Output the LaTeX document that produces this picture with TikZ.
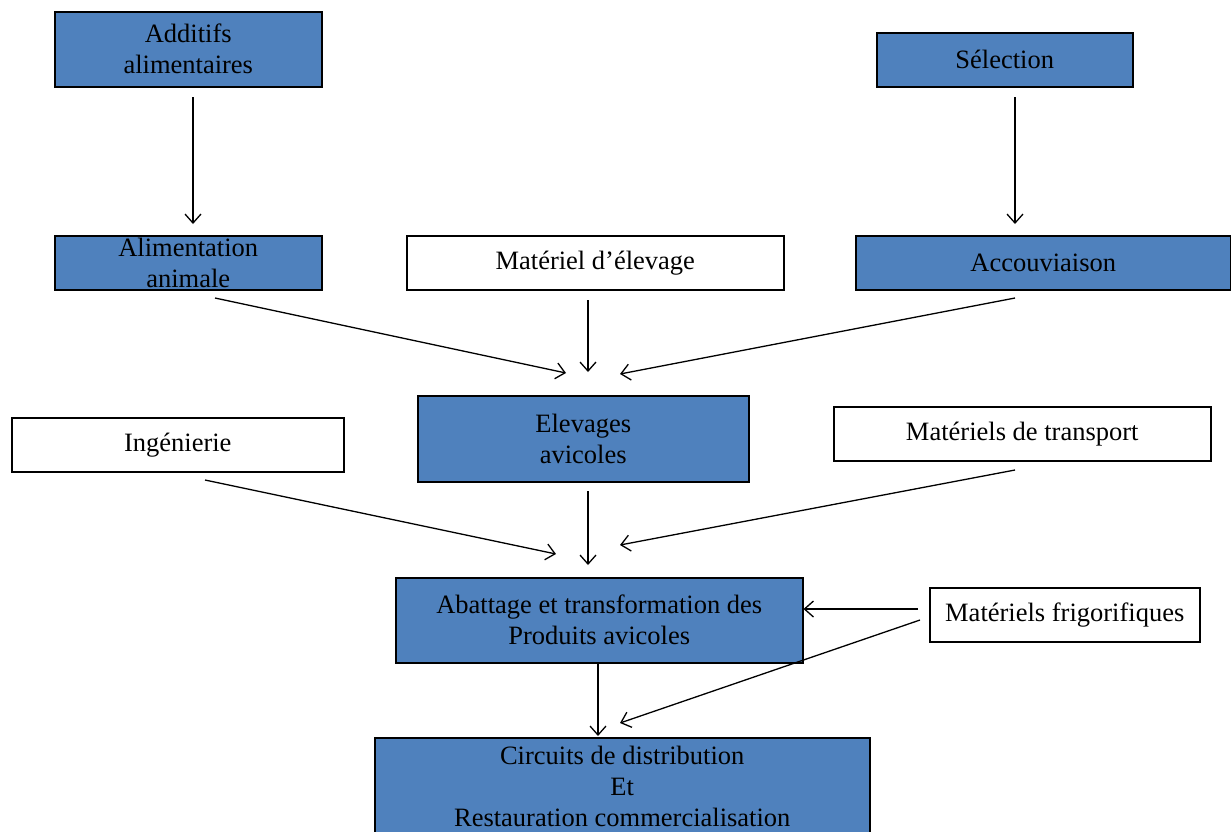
\documentclass[tikz,border=0pt]{standalone}
\usepackage{fontspec}
\setmainfont{Liberation Serif}
\usetikzlibrary{arrows.meta}
\definecolor{boxblue}{HTML}{4F81BD}
\begin{document}
\begin{tikzpicture}[x=1pt,y=-1pt,
  base/.style={draw=black,line width=1.5pt,inner sep=0pt,align=center,
    font=\fontsize{26.5}{31}\selectfont,anchor=north west},
  bluebox/.style={base,fill=boxblue},
  whitebox/.style={base,fill=white},
  arr/.style={line width=1.3pt,-{Straight Barb[length=9pt,width=16pt,line width=1.3pt]}}]
\useasboundingbox (0,0) rectangle (1231,831);
\fill[white] (0,0) rectangle (1231,831);
\begin{scope}
\clip (0,0) rectangle (1231,831);
\node[bluebox,minimum width=267pt,minimum height=75pt] (add) at (54,11) {Additifs\\alimentaires};
\node[bluebox,minimum width=256pt,minimum height=54pt] (sel) at (876,32) {Sélection};
\node[bluebox,minimum width=267pt,minimum height=54pt] (alim) at (54,235) {Alimentation\\animale};
\node[whitebox,minimum width=377pt,minimum height=54pt] (mat) at (406,235) {Matériel d’élevage};
\node[bluebox,minimum width=375pt,minimum height=54pt] (acc) at (855,235) {Accouviaison};
\node[whitebox,minimum width=332pt,minimum height=54pt] (ing) at (11,417) {Ingénierie};
\node[bluebox,minimum width=331pt,minimum height=86pt] (elev) at (417,395) {Elevages\\avicoles};
\node[whitebox,minimum width=377pt,minimum height=54pt] (trans) at (833,406) {Matériels de transport};
\node[bluebox,minimum width=407pt,minimum height=85pt] (abat) at (395,577) {Abattage et transformation des\\Produits avicoles};
\node[whitebox,minimum width=270pt,minimum height=54pt] (frig) at (929,587) {Matériels frigorifiques};
\node[bluebox,minimum width=495pt,minimum height=98pt] (circ) at (374,737) {Circuits de distribution\\Et\\Restauration commercialisation};
\end{scope}
% free ends of connectors
\coordinate (a1) at (193,97);   \coordinate (a2) at (193,224);
\coordinate (s1) at (1015,97);  \coordinate (s2) at (1015,224);
\coordinate (al1) at (215,298); \coordinate (e1) at (566,373);
\coordinate (m1) at (588,300);  \coordinate (e2) at (588,372);
\coordinate (ac1) at (1015,298);\coordinate (e3) at (620,374);
\coordinate (i1) at (205,480);  \coordinate (b1) at (556,554);
\coordinate (el1) at (588,491); \coordinate (b2) at (588,565);
\coordinate (t1) at (1015,470); \coordinate (b3) at (620,545);
\coordinate (f1) at (918,609);
\coordinate (f2) at (920,620);  \coordinate (c1) at (620,723);
\coordinate (ab1) at (598,663); \coordinate (c2) at (598,736);
\draw[arr] (a1) -- (a2);
\draw[arr] (s1) -- (s2);
\draw[arr] (al1) -- (e1);
\draw[arr] (m1) -- (e2);
\draw[arr] (ac1) -- (e3);
\draw[arr] (i1) -- (b1);
\draw[arr] (el1) -- (b2);
\draw[arr] (t1) -- (b3);
\draw[arr,line width=1.8pt] (f1) -- (abat.east |- f1);
\draw[arr] (f2) -- (c1);
\draw[arr,line width=2.4pt] (ab1) -- (c2);
\end{tikzpicture}
\end{document}
